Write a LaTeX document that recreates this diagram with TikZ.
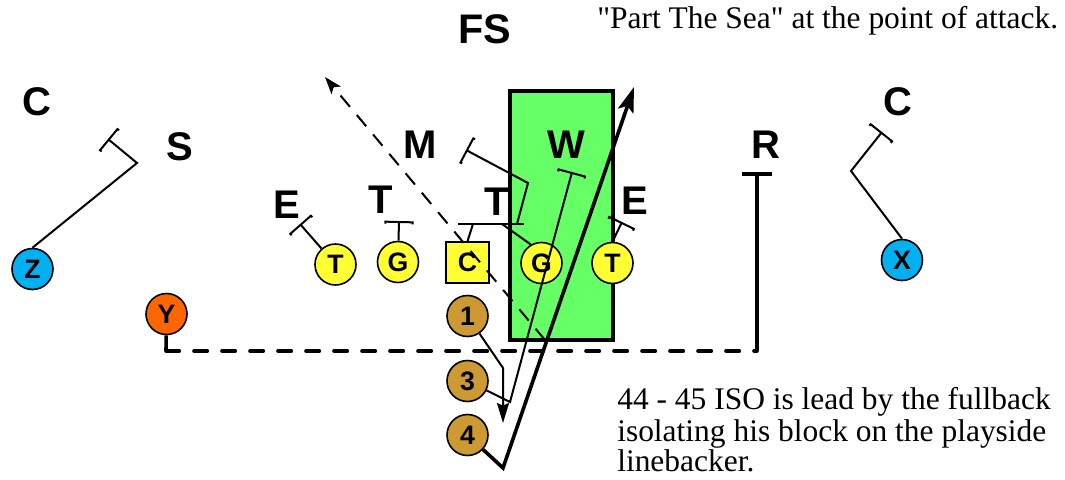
\documentclass[tikz,border=0pt]{standalone}
\usepackage{fontspec}
\setmainfont{Liberation Serif}
\newfontfamily\arialf{Liberation Sans}
\newcommand\straightquote{\XeTeXglyph\XeTeXcharglyph"22\relax}
\usetikzlibrary{arrows.meta,calc}
\definecolor{zblue}{RGB}{0,176,240}
\definecolor{yorange}{RGB}{255,102,0}
\definecolor{lyellow}{RGB}{255,255,51}
\definecolor{backgold}{RGB}{204,153,51}
\definecolor{boxgreen}{RGB}{102,255,102}
\begin{document}
\begin{tikzpicture}[x=0.75pt,y=-0.75pt,
  lbl/.style={font=\arialf\bfseries\fontsize{30}{30}\selectfont, inner sep=0pt, anchor=base},
  pfont/.style={font=\arialf\bfseries\fontsize{20}{20}\selectfont},
  player/.style={circle, draw, line width=1.2pt, minimum size=30.75pt, inner sep=0pt, pfont},
  route/.style={line width=1.5pt},
  blk/.style={route, -{Bracket[width=22pt,length=1.5pt]}},
  thickroute/.style={line width=2.7pt},
  desc/.style={inner sep=0pt, anchor=base west, font=\fontsize{23.6}{23}\selectfont},
]
\useasboundingbox (0,0) rectangle (1065,479);

% green point-of-attack box
\node[draw, line width=3pt, fill=boxgreen, minimum width=77.25pt, minimum height=186.75pt, inner sep=0pt] (box) at (561.5,215.5) {};

% defensive labels
\node[lbl, font=\arialf\bfseries\fontsize{31}{31}\selectfont] (FS) at (484.5,43) {FS};
\node[lbl] (CL) at (37,115) {C};
\node[lbl] (S) at (179.5,160) {S};
\node[lbl] (M) at (420.5,158) {M};
\node[lbl] (W) at (566,158) {W};
\node[lbl] (R) at (766,158) {R};
\node[lbl] (CR) at (898,115) {C};
\node[lbl] (EL) at (286.5,218) {E};
\node[lbl] (TL) at (380.5,213) {T};
\node[lbl] (TR) at (497,215) {T};
\node[lbl] (ER) at (635,214) {E};

% texts
\node[desc] (top) at (597,28) {\straightquote Part The Sea\straightquote{} at the point of attack.};
\node[desc] (d1) at (617,409) {44 - 45 ISO is lead by the fullback};
\node[desc] (d2) at (617,441) {isolating his block on the playside};
\node[desc] (d3) at (617,471) {linebacker.};

% offense
\node[player, fill=zblue] (Z) at (32.5,269) {Z};
\node[player, fill=yorange] (Y) at (166.5,314) {Y};
\node[player, fill=lyellow] (Tl) at (335.5,264.5) {T};
\node[player, fill=lyellow] (Gl) at (398,262) {G};
\node[draw, line width=1.2pt, fill=lyellow, minimum width=32.25pt, minimum height=30.75pt, inner sep=0pt, pfont] (Cn) at (467.5,262.5) {C};
\node[player, fill=lyellow] (Gr) at (541.5,263) {G};
\node[player, fill=lyellow] (Tr) at (612.5,263) {T};
\node[player, fill=zblue] (X) at (902,260) {X};
\node[player, fill=backgold] (N1) at (467.5,316) {1};
\node[player, fill=backgold] (N3) at (467.5,381) {3};
\node[player, fill=backgold] (N4) at (467.5,435) {4};

% coordinates
\coordinate (zc) at (137,163);
\coordinate (ze) at (108,139);
\coordinate (xc) at (851,171);
\coordinate (xe) at (882,132);
\coordinate (tle) at (300,224);
\coordinate (gle) at (399,221);
\coordinate (ce) at (473,224);
\coordinate (dl) at (458,224);
\coordinate (dr) at (524,224);
\coordinate (gre) at (502,224);
\coordinate (mb) at (517,224);
\coordinate (mc) at (528,183);
\coordinate (me) at (466,150);
\coordinate (tre) at (622,222);
\coordinate (yc) at (166,351);
\coordinate (rc) at (757,351);
\coordinate (re) at (757,172);
\coordinate (ds) at (545,340);
\coordinate (de) at (325,77);
\coordinate (c1) at (503,368);
\coordinate (e1) at (503,423);
\coordinate (c3) at (510,402);
\coordinate (we) at (572,172);
\coordinate (c4) at (503,468);
\coordinate (e4) at (634,87);

% receivers
\draw[blk] (Z.north) -- (zc) -- (ze);
\draw[blk] (X.north) -- (xc) -- (xe);

% line blocks
\draw[blk] (Tl) -- (tle);
\draw[blk] (Gl) -- (gle);
\draw[route] (Cn.north) -- (ce);
\draw[route] (dl) -- (dr);
\draw[route] (Gr.120) -- (gre);
\draw[blk] (mb) -- (mc) -- (me);
\draw[blk] (Tr.north) -- (tre);

% tight end motion / block
\draw[thickroute] (Y) -- (yc);
\draw[thickroute, dash pattern=on 10pt off 11pt, line cap=round] (yc) -- (rc);
\draw[thickroute, -{Bracket[width=22pt,length=2pt]}] (rc) -- (re);

% dashed path through the center
\draw[route, dash pattern=on 11pt off 8pt, -{Stealth[length=13pt,width=9pt,inset=3pt]}] (ds) -- (de);

% backs
\draw[route, -{Stealth[length=15pt,width=9pt,inset=2pt]}] (N1) -- (c1) -- (e1);
\draw[blk] (N3) -- (c3) -- (we);
\draw[thickroute, -{Stealth[length=19pt,width=12pt,inset=4pt]}] (N4) -- (c4) -- (e4);
\end{tikzpicture}
\end{document}
